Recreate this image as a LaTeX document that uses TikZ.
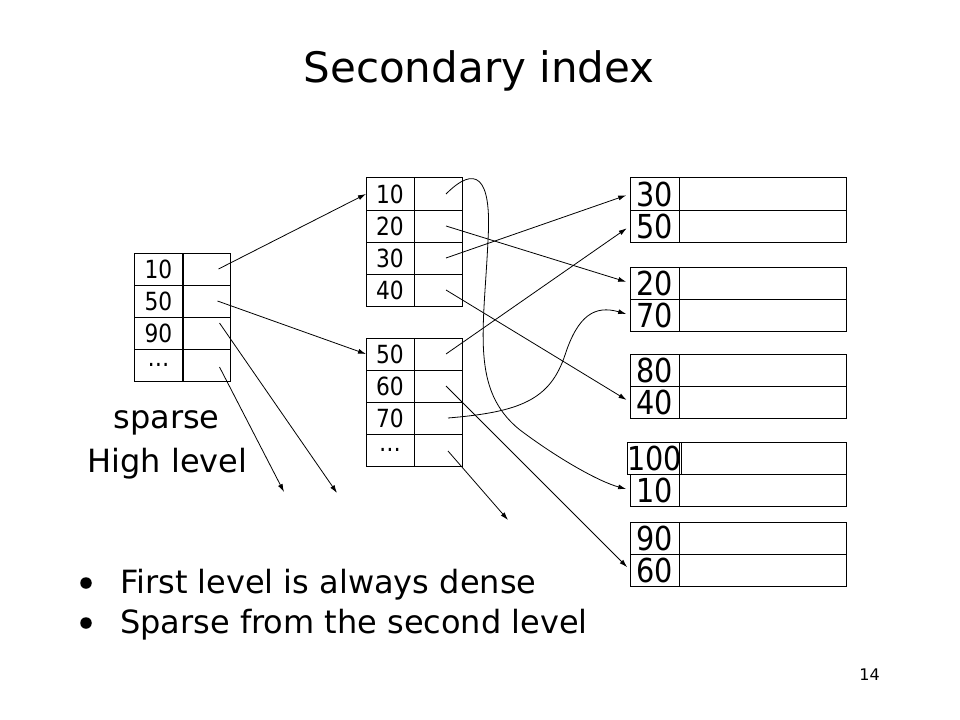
\documentclass[tikz,border=0pt]{standalone}
\usepackage{fontspec}
\setmainfont{DejaVu Sans}
\newfontfamily\narrowdigits{DejaVu Sans}[FakeStretch=0.87]
\usetikzlibrary{arrows.meta}

\tikzset{
	    cell/.style={
					draw=black,
					line width=1bp,
					inner sep=0pt,
					outer sep=0pt,
					minimum height=32bp
	    },
	    smallkey/.style={cell, minimum width=48bp, font=\narrowdigits\fontsize{25bp}{25bp}\selectfont},
	    smallptr/.style={cell, minimum width=48bp},
	    bigkey/.style={cell, minimum width=49bp, font=\narrowdigits\fontsize{33bp}{33bp}\selectfont},
	    bigrec/.style={cell, minimum width=167bp},
	    link/.style={line width=0.8bp, -{Latex[length=8bp,width=5bp]}},
	    slide/.style={font=\fontsize{32bp}{32bp}\selectfont, inner sep=0pt},
	    dot/.style={circle, fill=black, minimum size=11.5bp, inner sep=0pt}
		}

\begin{document}
\begin{tikzpicture}[x=1bp, y=-1bp]
			\useasboundingbox (0,0) rectangle (960,720);

			\node[font=\fontsize{42bp}{42bp}\selectfont, inner sep=0pt, anchor=base] (title) at (479,83) {Secondary index};

			% sparse high level
			\node[smallkey] (hk1) at (158.5,269) {10}; \node[smallptr, minimum width=47bp] (hp1) at (206.5,269) {};
			\node[smallkey] (hk2) at (158.5,301) {50}; \node[smallptr, minimum width=47bp] (hp2) at (206.5,301) {};
			\node[smallkey] (hk3) at (158.5,333) {90}; \node[smallptr, minimum width=47bp] (hp3) at (206.5,333) {};
			\node[smallkey] (hk4) at (158.5,365) {\dots}; \node[smallptr, minimum width=47bp] (hp4) at (206.5,365) {};

			\node[slide, anchor=base] (sparse) at (166.5,428) {sparse};
			\node[slide, anchor=base] (high) at (167.5,472) {High level};

			% first level
			\node[smallkey] (mk1) at (390,194) {10}; \node[smallptr] (mp1) at (438,194) {};
			\node[smallkey] (mk2) at (390,226) {20}; \node[smallptr] (mp2) at (438,226) {};
			\node[smallkey] (mk3) at (390,258) {30}; \node[smallptr] (mp3) at (438,258) {};
			\node[smallkey] (mk4) at (390,290) {40}; \node[smallptr] (mp4) at (438,290) {};

			\node[smallkey] (mk5) at (390,354) {50}; \node[smallptr] (mp5) at (438,354) {};
			\node[smallkey] (mk6) at (390,386) {60}; \node[smallptr] (mp6) at (438,386) {};
			\node[smallkey] (mk7) at (390,418) {70}; \node[smallptr] (mp7) at (438,418) {};
			\node[smallkey] (mk8) at (390,450) {\dots}; \node[smallptr] (mp8) at (438,450) {};

			% data blocks
			\node[bigkey] (dk1) at (654.5,194) {30}; \node[bigrec] (dr1) at (762.5,194) {};
			\node[bigkey] (dk2) at (654.5,226) {50}; \node[bigrec] (dr2) at (762.5,226) {};
			\node[bigkey] (dk3) at (654.5,283) {20}; \node[bigrec] (dr3) at (762.5,283) {};
			\node[bigkey] (dk4) at (654.5,315) {70}; \node[bigrec] (dr4) at (762.5,315) {};
			\node[bigkey] (dk5) at (654.5,370) {80}; \node[bigrec] (dr5) at (762.5,370) {};
			\node[bigkey] (dk6) at (654.5,402) {40}; \node[bigrec] (dr6) at (762.5,402) {};
			\node[bigkey] (dk7) at (654.5,458) {100}; \node[bigrec] (dr7) at (762.5,458) {};
			\node[bigkey] (dk8) at (654.5,490) {10}; \node[bigrec] (dr8) at (762.5,490) {};
			\node[bigkey] (dk9) at (654.5,538) {90}; \node[bigrec] (dr9) at (762.5,538) {};
			\node[bigkey] (dk10) at (654.5,570) {60}; \node[bigrec] (dr10) at (762.5,570) {};

			\coordinate (end1) at (284,492);
			\coordinate (end2) at (337,493);
			\coordinate (end3) at (508,520);

			\draw[link] ([xshift=12bp]hp1.center) -- (mk1.west);
			\draw[link] ([xshift=11bp]hp2.center) -- (mk5.west);
			\draw[link] ([xshift=13bp, yshift=10bp]hp3.center) -- (end2);
			\draw[link] ([xshift=13bp, yshift=-2bp]hp4.center) -- (end1);

			\draw[link, shorten >=4bp] ([xshift=8bp]mp1.center) .. controls (475,165) and (492,175) .. (488,240)
				.. controls (484,330) and (470,390) .. (520,430) .. controls (560,460) and (600,482) .. (dk8.west);
			\draw[link, shorten >=4bp] ([xshift=8bp]mp2.center) -- (dk3.west);
			\draw[link, shorten >=4bp] ([xshift=8bp]mp3.center) -- (dk1.west);
			\draw[link, shorten >=4bp] ([xshift=8bp]mp4.center) -- (dk6.west);
			\draw[link, shorten >=4bp] ([xshift=8bp]mp5.center) -- (dk2.west);
			\draw[link, shorten >=4bp] ([xshift=8bp]mp6.center) -- (dk10.west);
			\draw[link, shorten >=4bp] ([xshift=10bp]mp7.center) .. controls (520,412) and (550,400) .. (565,355)
				.. controls (578,315) and (595,305) .. (dk4.west);
			\draw[link] ([xshift=10bp, yshift=-1bp]mp8.center) -- (end3);

			% bullets
			\node[dot] (b1) at (86,583) {};
			\node[slide, anchor=base west] (t1) at (120,593) {First level is always dense};
			\node[dot] (b2) at (86,623) {};
			\node[slide, anchor=base west] (t2) at (120,633) {Sparse from the second level};

			\node[font=\fontsize{16bp}{16bp}\selectfont, inner sep=0pt, anchor=base] (page) at (869.5,680) {14};
		\end{tikzpicture}
\end{document}
